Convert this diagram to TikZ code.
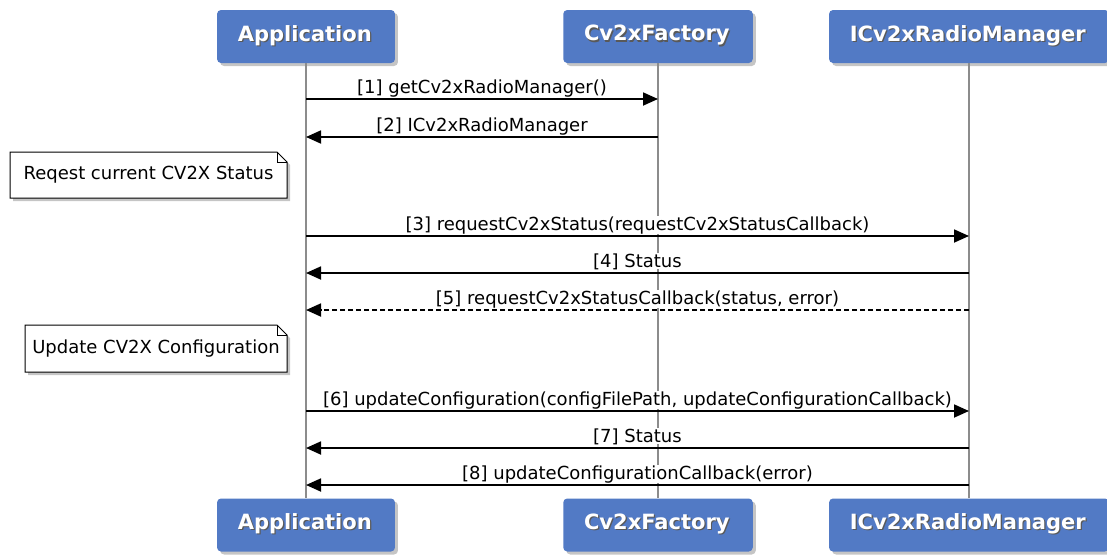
\documentclass[tikz,border=0pt]{standalone}
\usepackage{fontspec}
\setmainfont{DejaVu Sans}
\usepackage{tikz}
\usetikzlibrary{arrows.meta, shadows, calc}

\definecolor{hdrblue}{RGB}{82,122,197}
\definecolor{lifegray}{RGB}{140,140,140}

\tikzset{
  hdrfont/.style = {font = \fontsize{21}{24}\selectfont\bfseries},
  hdr/.style = {fill = hdrblue, rounded corners = 4pt, text = black!65, hdrfont,
    minimum height = 53pt, inner xsep = 22pt,
    drop shadow = {shadow xshift = 3pt, shadow yshift = -3pt, opacity = 0.45},
    label = {[text = white, hdrfont, xshift = -1.2pt, yshift = 1.2pt]center:#1}},
  life/.style = {draw = lifegray, line width = 1.5pt},
  msg/.style = {line width = 1.8pt, -{Triangle[length = 15pt, width = 13pt]}},
  lbl/.style = {anchor = base, yshift = 6pt, inner sep = 0pt, fill = white, font = \fontsize{18}{21}\selectfont},
  notebg/.style = {fill = white, draw = black, line width = 1pt,
    drop shadow = {shadow xshift = 3pt, shadow yshift = -3pt, opacity = 0.45}},
  notetxt/.style = {font = \fontsize{18}{21}\selectfont, inner sep = 0pt}
}

\begin{document}
\begin{tikzpicture}[x = 1pt, y = -1pt]
			\useasboundingbox[fill = white] (0, 0) rectangle (1107, 554);
			% participants
			\node[hdr = Application] (app) at (306, 36.5) {Application};
			\node[hdr = Cv2xFactory] (fac) at (658, 36.5) {Cv2xFactory};
			\node[hdr = ICv2xRadioManager] (icv) at (969, 36.5) {ICv2xRadioManager};
			\node[hdr = Application] (appB) at (306, 525) {Application};
			\node[hdr = Cv2xFactory] (facB) at (658, 525) {Cv2xFactory};
			\node[hdr = ICv2xRadioManager] (icvB) at (969, 525) {ICv2xRadioManager};
			\draw[life] (app.south) -- (appB.north);
			\draw[life] (fac.south) -- (facB.north);
			\draw[life] (icv.south) -- (icvB.north);
			% message rows
			\coordinate (m1) at (0, 99);
			\coordinate (m2) at (0, 137);
			\coordinate (m3) at (0, 236);
			\coordinate (m4) at (0, 273);
			\coordinate (m5) at (0, 310);
			\coordinate (m6) at (0, 411);
			\coordinate (m7) at (0, 448);
			\coordinate (m8) at (0, 485);
			\draw[msg] (app |- m1) -- node[lbl] {[1] getCv2xRadioManager()} (fac |- m1);
			\draw[msg] (fac |- m2) -- node[lbl] {[2] ICv2xRadioManager} (app |- m2);
			% note 1
			\path[notebg] (10, 152) -- (277, 152) -- (287, 162) -- (287, 198) -- (10, 198) -- cycle;
			\draw[line width = 1pt] (277, 152) -- (277, 162) -- (287, 162);
			\node[notetxt] (n1) at (148.5, 175) {Reqest current CV2X Status};
			\draw[msg] (app |- m3) -- node[lbl] {[3] requestCv2xStatus(requestCv2xStatusCallback)} (icv |- m3);
			\draw[msg] (icv |- m4) -- node[lbl] {[4] Status} (app |- m4);
			\draw[msg, dash pattern = on 5pt off 3pt] (icv |- m5) -- node[lbl] {[5] requestCv2xStatusCallback(status, error)} (app |- m5);
			% note 2
			\path[notebg] (25, 325) -- (277, 325) -- (287, 335) -- (287, 372) -- (25, 372) -- cycle;
			\draw[line width = 1pt] (277, 325) -- (277, 335) -- (287, 335);
			\node[notetxt] (n2) at (156, 348.5) {Update CV2X Configuration};
			\draw[msg] (app |- m6) -- node[lbl] {[6] updateConfiguration(configFilePath, updateConfigurationCallback)} (icv |- m6);
			\draw[msg] (icv |- m7) -- node[lbl] {[7] Status} (app |- m7);
			\draw[msg] (icv |- m8) -- node[lbl] {[8] updateConfigurationCallback(error)} (app |- m8);
		\end{tikzpicture}
\end{document}
